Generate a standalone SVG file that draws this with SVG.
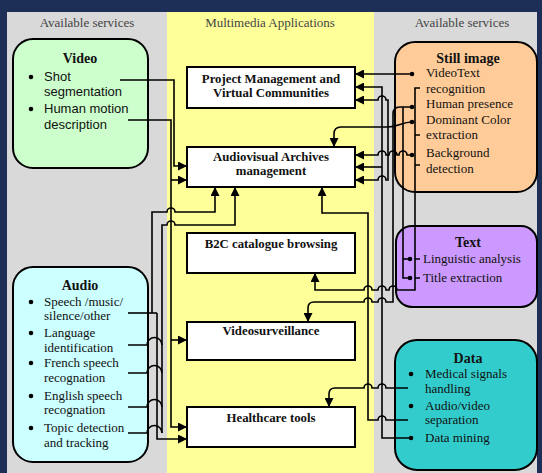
<svg xmlns="http://www.w3.org/2000/svg" width="542" height="473" viewBox="0 0 542 473">
<style>
.hdr{font-family:"Liberation Serif",serif;font-size:13px;fill:#444;text-anchor:middle}
.ttl{font-family:"Liberation Serif",serif;font-size:14px;font-weight:bold;fill:#111;text-anchor:middle}
.app{font-family:"Liberation Serif",serif;font-size:12.8px;font-weight:bold;fill:#111;text-anchor:middle}
.sans{font-family:"Liberation Sans",Arial,sans-serif;font-size:13px;fill:#111}
.ser{font-family:"Liberation Serif",serif;font-size:13px;fill:#111}
.svc{stroke:#000;stroke-width:2}
.appbox{fill:#fff;stroke:#000;stroke-width:2}
.c path{fill:none;stroke:#000;stroke-width:1.6}
.c path.a{marker-end:url(#ah)}
.dot{fill:#000}
</style>
<defs>
<marker id="ah" viewBox="0 0 10 10" refX="10" refY="5" markerWidth="9" markerHeight="9" markerUnits="userSpaceOnUse" orient="auto"><path d="M0,0 L10,5 L0,10 z" fill="#000"/></marker>
</defs>
<rect x="0" y="0" width="542" height="473" fill="#1e2f57"/>
<rect x="7" y="12" width="530" height="461" fill="#d9d9d9"/>
<rect x="167" y="12" width="207" height="461" fill="#ffff99"/>
<text class="hdr" x="87" y="27">Available services</text>
<text class="hdr" x="270" y="27">Multimedia Applications</text>
<text class="hdr" x="462" y="27">Available services</text>

<g id="video">
<rect class="svc" x="13" y="39" width="135" height="129" rx="20" fill="#ccffcc"/>
<text class="ttl" x="80" y="63">Video</text>
<circle class="dot" cx="31" cy="77" r="2.3"/><circle class="dot" cx="31" cy="109" r="2.3"/>
<text class="sans" x="44" y="81">Shot</text>
<text class="sans" x="44" y="96">segmentation</text>
<text class="sans" x="44" y="113">Human motion</text>
<text class="sans" x="44" y="129">description</text>
</g>

<g id="audio">
<rect class="svc" x="13" y="267" width="135" height="195" rx="20" fill="#ccffff"/>
<text class="ttl" x="80" y="290">Audio</text>
<circle class="dot" cx="31" cy="302" r="2.3"/><circle class="dot" cx="31" cy="333" r="2.3"/><circle class="dot" cx="31" cy="363" r="2.3"/><circle class="dot" cx="31" cy="396" r="2.3"/><circle class="dot" cx="31" cy="428" r="2.3"/>
<text class="ser" x="44" y="306">Speech /music/</text>
<text class="ser" x="44" y="320">silence/other</text>
<text class="ser" x="44" y="337">Language</text>
<text class="ser" x="44" y="352">identification</text>
<text class="ser" x="44" y="367">French speech</text>
<text class="ser" x="44" y="382">recognation</text>
<text class="ser" x="44" y="400">English speech</text>
<text class="ser" x="44" y="414">recognation</text>
<text class="ser" x="44" y="432">Topic detection</text>
<text class="ser" x="44" y="447">and tracking</text>
</g>

<g id="still-image">
<rect class="svc" x="395" y="42" width="142" height="150" rx="20" fill="#ffcc99"/>
<text class="ttl" x="468" y="63">Still image</text>
<text class="ser" x="426" y="77">VideoText</text>
<text class="ser" x="426" y="93">recognition</text>
<text class="ser" x="426" y="108">Human presence</text>
<text class="ser" x="426" y="124">Dominant Color</text>
<text class="ser" x="426" y="139">extraction</text>
<text class="ser" x="426" y="157">Background</text>
<text class="ser" x="426" y="173">detection</text>
</g>

<g id="text">
<rect class="svc" x="396" y="226" width="141" height="81" rx="16" fill="#cc99ff"/>
<text class="ttl" x="468" y="247">Text</text>
<text class="ser" x="423" y="263">Linguistic analysis</text>
<text class="ser" x="423" y="282">Title extraction</text>
</g>

<g id="data">
<rect class="svc" x="395" y="340" width="142" height="130" rx="22" fill="#33cccc"/>
<text class="ttl" x="468" y="363">Data</text>
<circle class="dot" cx="411" cy="374" r="2.3"/><circle class="dot" cx="411" cy="406" r="2.3"/>
<text class="ser" x="425" y="378">Medical signals</text>
<text class="ser" x="425" y="393">handling</text>
<text class="ser" x="425" y="410">Audio/video</text>
<text class="ser" x="425" y="424">separation</text>
<text class="ser" x="425" y="442">Data mining</text>
</g>

<g id="app-pm">
<rect class="appbox" x="187" y="67" width="168" height="41"/>
<text class="app" x="271" y="83">Project Management and</text>
<text class="app" x="271" y="97">Virtual Communities</text>
</g>
<g id="app-av">
<rect class="appbox" x="187" y="147" width="168" height="40"/>
<text class="app" x="271" y="161">Audiovisual Archives</text>
<text class="app" x="271" y="175">management</text>
</g>
<g id="app-b2c">
<rect class="appbox" x="187" y="233" width="168" height="40"/>
<text class="app" x="271" y="248">B2C catalogue browsing</text>
</g>
<g id="app-vs">
<rect class="appbox" x="187" y="322" width="168" height="38"/>
<text class="app" x="271" y="335">Videosurveillance</text>
</g>
<g id="app-hc">
<rect class="appbox" x="187" y="407" width="168" height="40"/>
<text class="app" x="271" y="422">Healthcare tools</text>
</g>

<g id="connectors" class="c">
<path class="a" d="M120,80 H174 V166 H187"/>
<path class="a" d="M128,120 H171 V427 H187"/>
<path class="a" d="M171,180 H187"/>
<path class="a" d="M171,340 H187"/>
<path d="M128,313 H157"/>
<path class="a" d="M152,313 V212 H167 A4,4 0 0 1 175,212 H215 V187"/>
<path class="a" d="M157,313 V439 H187"/>
<path class="a" d="M162,433 V225 H167 A4,4 0 0 1 175,225 H235 V187"/>
<path d="M128,345 H147 A7.5,7.5 0 0 1 162,345"/>
<path d="M128,373 H147 A7.5,7.5 0 0 1 162,373"/>
<path d="M128,407 H147 A7.5,7.5 0 0 1 162,407"/>
<path d="M128,433 H147 A7.5,7.5 0 0 1 162,433"/>
<path class="a" d="M412,74 H355"/>
<path class="a" d="M412,122 C402,122 398,127 388,127 H341 Q334,127 334,134 V147"/>
<path class="a" d="M412,155 H407 A4,4 0 0 0 399,155 H397 A4,4 0 0 0 389,155 H386 A4,4 0 0 0 378,155 H355"/>
<path class="a" d="M388,155 V100 H386 A4,4 0 0 0 378,100 H355"/>
<path class="a" d="M388,155 V180 H386 A4,4 0 0 0 378,180 H355"/>
<path class="a" d="M412,107 H400 Q393,107 393,114 V302 H386 A4,4 0 0 0 378,302 H372 A4,4 0 0 0 364,302 H314 Q308,302 308,308 V322"/>
<path d="M403,107 V278 H410"/>
<path d="M403,259 H410"/>
<path class="a" d="M420,88 H415 V290 H397 A4,4 0 0 0 389,290 H386 A4,4 0 0 0 378,290 H372 A4,4 0 0 0 364,290 H315 V273"/>
<path d="M415,135 H420 M415,165 H420 M415,259 H420 M415,278 H420"/>
<path class="a" d="M410,438 H382 V87 H355"/>
<path class="a" d="M382,167 H355"/>
<path class="a" d="M408,388 H386 A4,4 0 0 0 378,388 H372 A4,4 0 0 0 364,388 H335 Q329,388 329,394 V407"/>
<path class="a" d="M408,420 H386 A4,4 0 0 0 378,420 H368 V213 H322 V187"/>
</g>
<g id="junction-dots">
<circle class="dot" cx="412" cy="74" r="2.3"/>
<circle class="dot" cx="412" cy="107" r="2.3"/>
<circle class="dot" cx="412" cy="122" r="2.3"/>
<circle class="dot" cx="412" cy="155" r="2.3"/>
<circle class="dot" cx="410" cy="259" r="2.3"/>
<circle class="dot" cx="410" cy="278" r="2.3"/>
<circle class="dot" cx="411" cy="438" r="2.3"/>
</g>
</svg>
